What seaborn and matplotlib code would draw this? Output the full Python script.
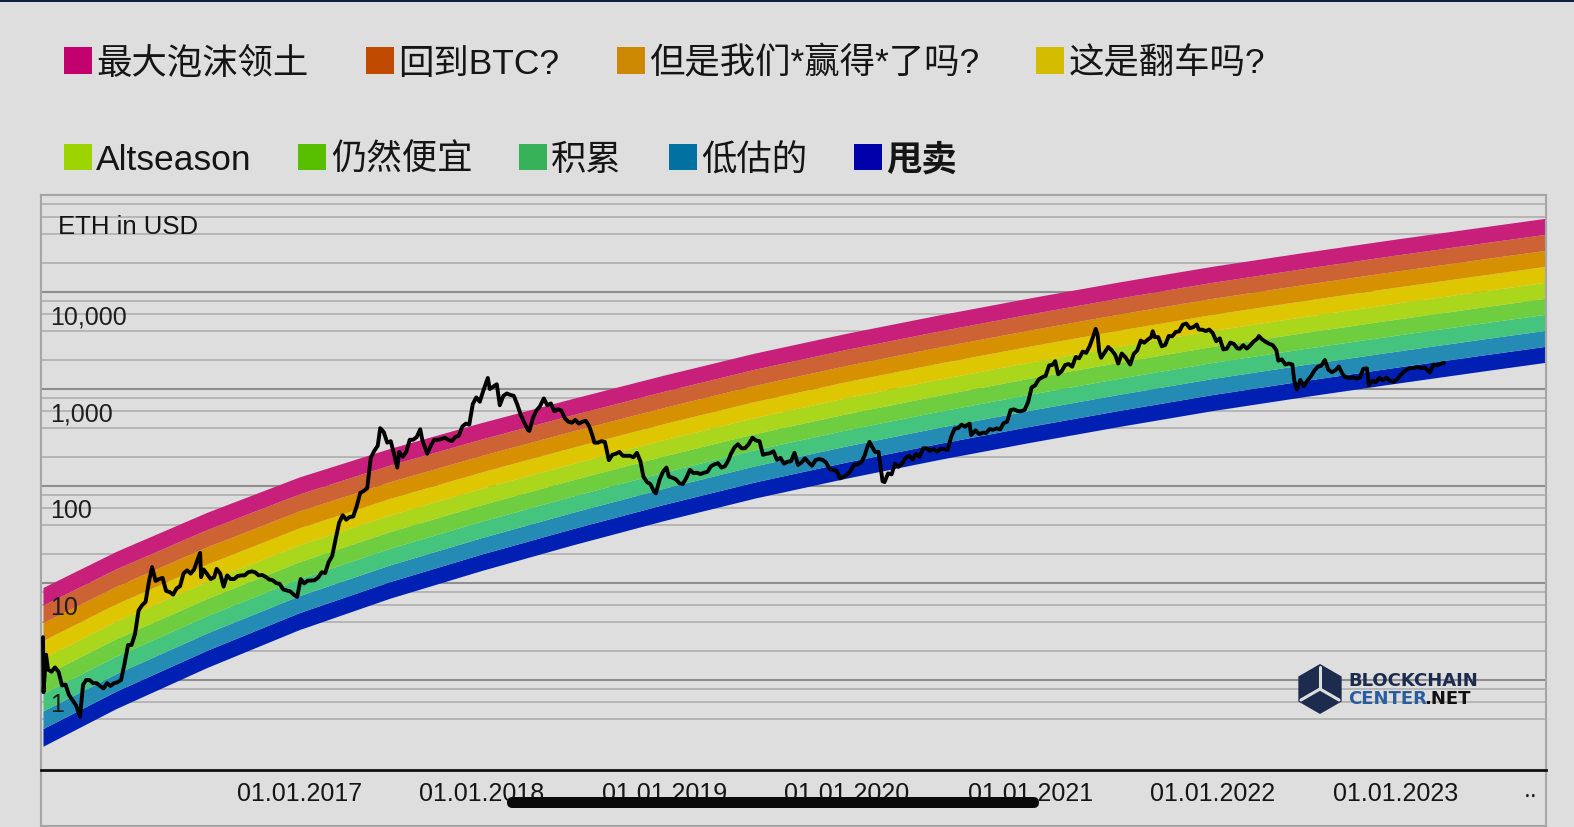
import matplotlib

matplotlib.use("Agg")

import matplotlib.dates as mdates
import matplotlib.pyplot as plt
import matplotlib.transforms as mtransforms
import numpy as np
import pandas as pd
import seaborn as sns
from matplotlib.patches import FancyBboxPatch, Patch, Rectangle, RegularPolygon

W, H = 1574, 828

# legend / band names, top (most expensive) band first
BAND_LABELS = ["最大泡沫领土", "回到BTC?", "但是我们*赢得*了吗?", "这是翻车吗?",
               "Altseason", "仍然便宜", "积累", "低估的", "甩卖"]
LEGEND_COLORS = ["#c2006e", "#c04a00", "#cc8800", "#d4bc00",
                 "#9cd400", "#58be00", "#38b25a", "#0071a0", "#0000aa"]
BAND_COLORS = ["#c8207a", "#cd6234", "#d69000", "#dec600",
               "#aad61c", "#6ece3f", "#45c47d", "#248cb4", "#0020b4"]

# outer edges of the rainbow (USD)
BAND_DATES = ["2015-08-08", "2016-01-01", "2016-07-01", "2017-01-01", "2017-07-01",
              "2018-01-01", "2018-07-01", "2019-01-01", "2019-07-01", "2020-01-01",
              "2020-07-01", "2021-01-01", "2021-07-01", "2022-01-01", "2022-07-01",
              "2023-01-01", "2023-07-01", "2023-10-28"]
BAND_TOP = [9.0, 21.2, 53.7, 124, 244, 452, 798, 1396, 2350, 3767,
            5781, 8710, 12790, 18450, 25530, 35080, 47320, 57540]
BAND_BOTTOM = [0.208, 0.508, 1.35, 3.31, 6.97, 13.5, 24.7, 44.2, 75.2, 121,
               187, 282, 414, 600, 832, 1143, 1549, 1884]

# ETH price (USD)
PRICE_DATES = [
    "2015-08-08", "2015-08-09", "2015-08-11", "2015-08-14", "2015-08-18", "2015-08-25",
    "2015-09-01", "2015-09-08", "2015-09-15", "2015-09-22", "2015-09-29", "2015-10-06",
    "2015-10-13", "2015-10-21", "2015-10-27", "2015-11-02", "2015-11-09", "2015-11-16",
    "2015-11-23", "2015-11-30", "2015-12-07", "2015-12-14", "2015-12-21", "2015-12-28",
    "2016-01-04", "2016-01-11", "2016-01-18", "2016-01-25", "2016-02-01", "2016-02-08",
    "2016-02-15", "2016-02-22", "2016-02-29", "2016-03-07", "2016-03-13", "2016-03-20",
    "2016-03-27", "2016-04-03", "2016-04-10", "2016-04-17", "2016-04-24", "2016-05-01",
    "2016-05-08", "2016-05-15", "2016-05-22", "2016-05-29", "2016-06-05", "2016-06-12",
    "2016-06-17", "2016-06-19", "2016-06-24", "2016-07-01", "2016-07-08", "2016-07-15",
    "2016-07-20", "2016-07-27", "2016-08-03", "2016-08-10", "2016-08-17", "2016-08-24",
    "2016-08-31", "2016-09-07", "2016-09-14", "2016-09-21", "2016-09-28", "2016-10-05",
    "2016-10-12", "2016-10-19", "2016-10-26", "2016-11-02", "2016-11-09", "2016-11-16",
    "2016-11-23", "2016-11-30", "2016-12-07", "2016-12-14", "2016-12-21", "2016-12-28",
    "2017-01-04", "2017-01-11", "2017-01-18", "2017-01-25", "2017-02-01", "2017-02-08",
    "2017-02-15", "2017-02-22", "2017-03-01", "2017-03-08", "2017-03-15", "2017-03-22",
    "2017-03-29", "2017-04-05", "2017-04-12", "2017-04-19", "2017-04-26", "2017-05-03",
    "2017-05-10", "2017-05-17", "2017-05-24", "2017-05-31", "2017-06-07", "2017-06-12",
    "2017-06-19", "2017-06-26", "2017-07-03", "2017-07-10", "2017-07-16", "2017-07-20",
    "2017-07-27", "2017-08-03", "2017-08-10", "2017-08-17", "2017-08-24", "2017-08-31",
    "2017-09-04", "2017-09-14", "2017-09-21", "2017-09-28", "2017-10-05", "2017-10-12",
    "2017-10-19", "2017-10-26", "2017-11-02", "2017-11-09", "2017-11-16", "2017-11-23",
    "2017-11-30", "2017-12-07", "2017-12-14", "2017-12-21", "2017-12-28",
    "2018-01-04", "2018-01-13", "2018-01-17", "2018-01-24", "2018-01-31", "2018-02-06",
    "2018-02-13", "2018-02-20", "2018-02-27", "2018-03-06", "2018-03-13", "2018-03-20",
    "2018-03-27", "2018-04-03", "2018-04-06", "2018-04-13", "2018-04-20", "2018-04-27",
    "2018-05-05", "2018-05-12", "2018-05-19", "2018-05-26", "2018-06-02", "2018-06-09",
    "2018-06-16", "2018-06-23", "2018-06-30", "2018-07-07", "2018-07-14", "2018-07-21",
    "2018-07-28", "2018-08-04", "2018-08-11", "2018-08-14", "2018-08-21", "2018-08-28",
    "2018-09-04", "2018-09-12", "2018-09-19", "2018-09-26", "2018-10-03", "2018-10-10",
    "2018-10-17", "2018-10-24", "2018-10-31", "2018-11-07", "2018-11-14", "2018-11-20",
    "2018-11-27", "2018-12-04", "2018-12-11", "2018-12-15", "2018-12-22", "2018-12-29",
    "2019-01-05", "2019-01-10", "2019-01-17", "2019-01-24", "2019-01-31", "2019-02-07",
    "2019-02-14", "2019-02-21", "2019-02-28", "2019-03-07", "2019-03-14", "2019-03-21",
    "2019-03-28", "2019-04-04", "2019-04-11", "2019-04-18", "2019-04-25", "2019-05-02",
    "2019-05-09", "2019-05-14", "2019-05-21", "2019-05-28", "2019-06-04", "2019-06-11",
    "2019-06-18", "2019-06-26", "2019-07-03", "2019-07-10", "2019-07-17", "2019-07-24",
    "2019-07-31", "2019-08-07", "2019-08-14", "2019-08-21", "2019-08-28", "2019-09-04",
    "2019-09-11", "2019-09-18", "2019-09-25", "2019-10-02", "2019-10-09", "2019-10-16",
    "2019-10-23", "2019-10-30", "2019-11-06", "2019-11-13", "2019-11-20", "2019-11-27",
    "2019-12-04", "2019-12-11", "2019-12-18", "2019-12-25",
    "2020-01-01", "2020-01-08", "2020-01-15", "2020-01-22", "2020-01-29", "2020-02-05",
    "2020-02-12", "2020-02-15", "2020-02-19", "2020-02-26", "2020-03-04", "2020-03-12",
    "2020-03-16", "2020-03-23", "2020-03-30", "2020-04-06", "2020-04-13", "2020-04-20",
    "2020-04-27", "2020-05-04", "2020-05-11", "2020-05-18", "2020-05-25", "2020-06-01",
    "2020-06-08", "2020-06-15", "2020-06-22", "2020-06-29", "2020-07-06", "2020-07-13",
    "2020-07-20", "2020-07-27", "2020-08-03", "2020-08-10", "2020-08-17", "2020-08-24",
    "2020-08-31", "2020-09-02", "2020-09-05", "2020-09-14", "2020-09-21", "2020-09-28",
    "2020-10-05", "2020-10-12", "2020-10-19", "2020-10-26", "2020-11-02", "2020-11-09",
    "2020-11-16", "2020-11-23", "2020-11-30", "2020-12-07", "2020-12-14", "2020-12-21",
    "2020-12-28",
    "2021-01-04", "2021-01-11", "2021-01-18", "2021-01-25", "2021-02-01", "2021-02-08",
    "2021-02-15", "2021-02-20", "2021-02-26", "2021-03-05", "2021-03-12", "2021-03-19",
    "2021-03-26", "2021-04-02", "2021-04-09", "2021-04-16", "2021-04-23", "2021-04-30",
    "2021-05-07", "2021-05-12", "2021-05-16", "2021-05-19", "2021-05-23", "2021-05-30",
    "2021-06-06", "2021-06-13", "2021-06-20", "2021-06-26", "2021-07-03", "2021-07-10",
    "2021-07-20", "2021-07-27", "2021-08-03", "2021-08-10", "2021-08-17", "2021-08-24",
    "2021-08-31", "2021-09-03", "2021-09-07", "2021-09-14", "2021-09-21", "2021-09-28",
    "2021-10-05", "2021-10-12", "2021-10-19", "2021-10-26", "2021-11-02", "2021-11-09",
    "2021-11-16", "2021-11-23", "2021-11-30", "2021-12-04", "2021-12-11", "2021-12-18",
    "2021-12-25",
    "2022-01-01", "2022-01-08", "2022-01-15", "2022-01-22", "2022-01-29", "2022-02-05",
    "2022-02-12", "2022-02-19", "2022-02-24", "2022-03-03", "2022-03-10", "2022-03-17",
    "2022-03-24", "2022-03-31", "2022-04-03", "2022-04-10", "2022-04-17", "2022-04-24",
    "2022-05-01", "2022-05-08", "2022-05-12", "2022-05-19", "2022-05-26", "2022-06-02",
    "2022-06-09", "2022-06-13", "2022-06-18", "2022-06-25", "2022-07-02", "2022-07-09",
    "2022-07-16", "2022-07-23", "2022-07-30", "2022-08-06", "2022-08-13", "2022-08-20",
    "2022-08-27", "2022-09-03", "2022-09-10", "2022-09-17", "2022-09-24", "2022-10-01",
    "2022-10-08", "2022-10-15", "2022-10-22", "2022-10-29", "2022-11-05", "2022-11-09",
    "2022-11-16", "2022-11-23", "2022-11-30", "2022-12-07", "2022-12-14", "2022-12-21",
    "2022-12-28",
    "2023-01-04", "2023-01-11", "2023-01-18", "2023-01-25", "2023-02-01", "2023-02-08",
    "2023-02-15", "2023-02-22", "2023-03-01", "2023-03-08", "2023-03-11", "2023-03-18",
    "2023-03-25", "2023-04-01", "2023-04-08",
]
PRICE_USD = [
    2.77, 0.75, 1.07, 1.83, 1.28, 1.22,
    1.35, 1.22, 0.88, 0.90, 0.70, 0.62,
    0.55, 0.42, 0.89, 1.00, 1.00, 0.93,
    0.93, 0.87, 0.82, 0.93, 0.87, 0.93,
    0.95, 1.00, 1.48, 2.30, 2.30, 3.00,
    5.20, 5.90, 6.40, 10.5, 14.6, 10.5,
    11.0, 11.3, 8.3, 8.1, 7.6, 8.8,
    9.3, 12.6, 13.5, 12.5, 13.8, 17.5,
    20.5, 11.5, 13.8, 12.4, 11.0, 11.5,
    14.0, 12.6, 9.2, 12.0, 11.0, 11.0,
    11.8, 12.0, 12.0, 12.9, 13.2, 12.9,
    12.0, 12.1, 11.6, 10.9, 10.7, 10.0,
    9.8, 8.6, 8.4, 8.2, 7.6, 7.2,
    11.0, 9.9, 10.6, 10.6, 10.7, 11.4,
    12.9, 12.7, 16.5, 19.0, 28.6, 42.0,
    50.0, 45.0, 48.0, 48.5, 62.0, 85.0,
    89.0, 95.0, 195, 230, 260, 395,
    360, 280, 290, 210, 155, 225,
    200, 225, 300, 300, 320, 385,
    300, 215, 260, 300, 300, 305,
    315, 300, 290, 320, 330, 410,
    440, 430, 700, 820, 740,
    960, 1300, 1000, 1060, 1120, 680,
    850, 900, 870, 850, 690, 540,
    450, 380, 370, 500, 600, 660,
    800, 680, 710, 590, 620, 600,
    500, 460, 450, 480, 440, 460,
    470, 410, 320, 280, 280, 290,
    285, 185, 210, 215, 225, 205,
    205, 205, 198, 220, 180, 125,
    110, 105, 88, 84, 115, 140,
    155, 125, 122, 117, 107, 105,
    122, 147, 136, 137, 133, 137,
    140, 160, 167, 172, 155, 160,
    185, 215, 250, 270, 245, 245,
    268, 315, 295, 290, 210, 215,
    218, 228, 186, 195, 170, 178,
    180, 220, 165, 175, 193, 175,
    162, 185, 190, 186, 175, 150,
    146, 144, 120, 125,
    130, 143, 166, 167, 175, 205,
    265, 285, 260, 225, 225, 112,
    110, 135, 132, 170, 158, 170,
    195, 206, 187, 215, 200, 245,
    245, 230, 242, 226, 241, 240,
    236, 320, 390, 395, 430, 408,
    435, 440, 335, 375, 342, 355,
    353, 387, 380, 393, 383, 445,
    460, 608, 616, 593, 590, 610,
    735,
    1040, 1090, 1255, 1320, 1370, 1750,
    1780, 1935, 1420, 1530, 1770, 1810,
    1700, 2140, 2075, 2430, 2360, 2770,
    3480, 4170, 3580, 2430, 2100, 2390,
    2710, 2510, 2250, 1830, 2320, 2140,
    1790, 2300, 2500, 3160, 3000, 3230,
    3430, 3940, 3430, 3430, 2760, 2850,
    3520, 3500, 3880, 3930, 4600, 4730,
    4240, 4340, 4630, 4100, 4090, 3960,
    4100,
    3770, 3110, 3330, 2560, 2600, 3010,
    2920, 2630, 2600, 2830, 2610, 2820,
    3100, 3300, 3520, 3230, 3060, 2920,
    2830, 2520, 1960, 2020, 1790, 1830,
    1790, 1210, 990, 1240, 1070, 1220,
    1350, 1550, 1700, 1740, 1990, 1580,
    1490, 1560, 1710, 1430, 1320, 1300,
    1320, 1280, 1310, 1620, 1630, 1100,
    1215, 1180, 1300, 1230, 1310, 1215,
    1190,
    1255, 1390, 1510, 1610, 1640, 1650,
    1690, 1640, 1660, 1530, 1480, 1790,
    1750, 1820, 1860,
]

X_TICK_YEARS = [2017, 2018, 2019, 2020, 2021, 2022, 2023]
Y_LABEL_VALUES = [10000, 1000, 100, 10, 1]
Y_LABEL_TEXT = ["10,000", "1,000", "100", "10", "1"]

BG = "#dedede"
TEXT = "#151515"


def px_x(x):
    return x / W


def px_y(y):
    return 1 - y / H


def main():
    sns.set_theme(style="white", rc={"figure.facecolor": BG, "axes.facecolor": BG})
    plt.rcParams["font.family"] = ["Liberation Sans", "Noto Sans CJK SC", "DejaVu Sans"]

    fig = plt.figure(figsize=(W / 100, H / 100), dpi=100)
    ax = fig.add_axes([px_x(41), px_y(771), px_x(1546) - px_x(41), px_y(196) - px_y(771)])
    ax.set_facecolor(BG)

    bands = pd.DataFrame({
        "date": pd.to_datetime(BAND_DATES),
        "top": BAND_TOP,
        "bottom": BAND_BOTTOM,
    })
    ratio = np.asarray(bands["top"]) / np.asarray(bands["bottom"])
    n = len(BAND_COLORS)
    edges = [np.asarray(bands["bottom"]) * ratio ** (k / n) for k in range(n + 1)]
    # BAND_COLORS runs top -> bottom, edges run bottom -> top
    for k in range(n):
        ax.fill_between(bands["date"], edges[k], edges[k + 1],
                        color=BAND_COLORS[n - 1 - k], linewidth=0, zorder=1)

    prices = pd.DataFrame({"date": pd.to_datetime(PRICE_DATES), "price": PRICE_USD})
    sns.lineplot(data=prices, x="date", y="price", color="black", linewidth=2.8,
                 estimator=None, sort=False, ax=ax, zorder=3)

    ax.set_yscale("log")
    ax.set_ylim(0.1183, 1e5)
    ax.set_xlim(pd.Timestamp("2015-08-04"), pd.Timestamp("2023-10-29"))

    major = [10.0 ** k for k in range(0, 5)]
    minor = [m * 10.0 ** k for k in range(-1, 5) for m in (2, 4, 6, 8) if m * 10.0 ** k > 0.3]
    ax.set_yticks(major)
    ax.set_yticks(minor, minor=True)
    ax.yaxis.set_major_formatter(plt.NullFormatter())
    ax.yaxis.set_minor_formatter(plt.NullFormatter())
    ax.set_axisbelow(True)
    ax.grid(True, which="major", axis="y", color="#8e8e8e", linewidth=1.5)
    ax.grid(True, which="minor", axis="y", color="#b2b2b2", linewidth=1.3)
    ax.grid(False, axis="x")

    ax.set_xticks(pd.to_datetime([f"{y}-01-01" for y in X_TICK_YEARS]))
    ax.xaxis.set_major_formatter(mdates.DateFormatter("%d.%m.%Y"))
    ax.tick_params(axis="x", length=0, pad=8, labelsize=18, labelcolor=TEXT)
    ax.tick_params(axis="y", length=0, which="both")
    ax.set_xlabel("")
    ax.set_ylabel("")
    legend = ax.get_legend()
    if legend is not None:
        legend.remove()

    for side in ["left", "top", "right"]:
        ax.spines[side].set_color("#a6a6a6")
        ax.spines[side].set_linewidth(1.5)
    ax.spines["bottom"].set_color("#111111")
    ax.spines["bottom"].set_linewidth(2.0)

    # value labels sit inside the plot, just under their grid line
    label_trans = mtransforms.blended_transform_factory(ax.transAxes, ax.transData) + \
        mtransforms.ScaledTranslation(0, -0.24, fig.dpi_scale_trans)
    for value, text in zip(Y_LABEL_VALUES, Y_LABEL_TEXT):
        ax.text(0.006, value, text, transform=label_trans, ha="left", va="center",
                fontsize=18, color="#1e1e1e", zorder=4)

    fig.text(px_x(58), px_y(227), "ETH in USD", ha="left", va="center", fontsize=18.5, color=TEXT)
    fig.text(px_x(1531), px_y(790), "..", ha="center", va="center", fontsize=18, color=TEXT)

    # outer frame continues below the axis line
    fig.add_artist(Rectangle((41 / 100, (H - 827) / 100), 1505 / 100, 631 / 100,
                             transform=fig.dpi_scale_trans, fill=False,
                             edgecolor="#a6a6a6", linewidth=1.5, zorder=0))

    handles = [Patch(facecolor=c, edgecolor="none") for c in LEGEND_COLORS]
    common = dict(loc="center left", frameon=False, fontsize=25.5, handlelength=0.79,
                  handleheight=0.79, handletextpad=0.12,
                  borderpad=0, borderaxespad=0, labelcolor=TEXT)
    fig.legend(handles[:4], BAND_LABELS[:4], ncol=4, columnspacing=1.62,
               bbox_to_anchor=(px_x(64), px_y(63.5)), **common)
    row2 = fig.legend(handles[4:], BAND_LABELS[4:], ncol=5, columnspacing=1.32,
                      bbox_to_anchor=(px_x(64), px_y(160.5)), **common)
    row2.get_texts()[-1].set_fontweight("bold")

    # watermark
    cx, cy = 13.20, (H - 690) / 100
    fig.add_artist(RegularPolygon((cx, cy), numVertices=6, radius=0.25,
                                  orientation=0, transform=fig.dpi_scale_trans,
                                  facecolor="#1c2b4e", edgecolor="none"))
    for ang in (90, 210, 330):
        a = np.deg2rad(ang)
        fig.add_artist(plt.Line2D([cx, cx + 0.22 * np.cos(a)], [cy, cy + 0.22 * np.sin(a)],
                                  transform=fig.dpi_scale_trans, color=BG, linewidth=2.2))
    fig.text(px_x(1348), px_y(681), "BLOCKCHAIN", family=["DejaVu Sans"], weight="bold",
             fontsize=13, color="#1c2b4e", ha="left", va="center")
    fig.text(px_x(1348), px_y(699), "CENTER", family=["DejaVu Sans"], weight="bold",
             fontsize=13, color="#2a5d9f", ha="left", va="center")
    fig.text(px_x(1424), px_y(699), ".NET", family=["DejaVu Sans"], weight="bold",
             fontsize=13, color="#111111", ha="left", va="center")

    # top edge bar and scroll indicator from the screenshot
    fig.add_artist(Rectangle((0, (H - 3) / 100), W / 100, 0.03, transform=fig.dpi_scale_trans,
                             facecolor="#0c1f40", edgecolor="none"))
    fig.add_artist(FancyBboxPatch((5.07, (H - 809) / 100), 5.32, 0.11,
                                  boxstyle="round,pad=0,rounding_size=0.055",
                                  transform=fig.dpi_scale_trans,
                                  facecolor="#0a0a0a", edgecolor="none", zorder=5))

    fig.savefig("out.png", dpi=100, facecolor=BG)
    plt.close(fig)


if __name__ == "__main__":
    main()
